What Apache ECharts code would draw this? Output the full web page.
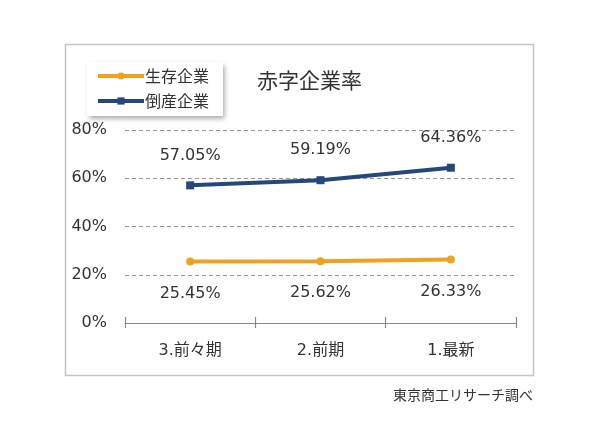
<!DOCTYPE html>
<html>
<head>
<meta charset="utf-8">
<script src="https://cdn.jsdelivr.net/npm/echarts@6/dist/echarts.min.js"></script>
<style>
  html, body { margin: 0; padding: 0; background: #fff; }
  #chart { width: 600px; height: 432px; }
</style>
</head>
<body>
<div id="chart"></div>
<script>
// 데이터
const categories = ['3.前々期', '2.前期', '1.最新'];
const survivingValues = [25.45, 25.62, 26.33];
const bankruptValues = [57.05, 59.19, 64.36];
const yTicks = [0, 20, 40, 60, 80];

const font = '"DejaVu Sans", "Noto Sans CJK JP", sans-serif';
const cjkFont = '"Noto Sans CJK JP", sans-serif';
const orange = '#F0A21E';
const navy = '#24487A';

const chart = echarts.init(document.getElementById('chart'));

chart.setOption({
    animation: false,
    backgroundColor: '#fff',
    textStyle: { fontFamily: font },
    graphic: [
        {
            type: 'rect',
            shape: { x: 65.5, y: 44.5, width: 468, height: 331 },
            style: { fill: 'none', stroke: '#c4c4c4', lineWidth: 1.5 },
            z: -1
        },
        {
            type: 'text',
            left: 257, top: 70,
            style: { text: '赤字企業率', font: '21px ' + cjkFont, fill: '#333' }
        },
        {
            type: 'text',
            right: 67, top: 388,
            style: { text: '東京商工リサーチ調べ', font: '14px ' + cjkFont, fill: '#333' }
        }
    ],
    legend: {
        orient: 'vertical',
        left: 87, top: 62,
        itemWidth: 46, itemHeight: 9,
        itemGap: 9,
        padding: [6, 14, 7, 9],
        backgroundColor: '#fff',
        shadowBlur: 5, shadowOffsetX: 2, shadowOffsetY: 3,
        shadowColor: 'rgba(0,0,0,0.35)',
        lineStyle: { width: 4 },
        textStyle: { fontSize: 16, color: '#333', fontFamily: cjkFont, padding: [0, 0, 0, -4] },
        data: ['生存企業', '倒産企業']
    },
    grid: { left: 125, right: 84, top: 130, bottom: 109 },
    xAxis: [
        {
            type: 'category',
            data: categories,
            boundaryGap: true,
            axisLine: { show: true, lineStyle: { color: '#888', width: 1.2 } },
            axisTick: { show: true, length: 5, lineStyle: { color: '#888', width: 1.2 } },
            axisLabel: { color: '#333', fontSize: 16, margin: 20, fontFamily: font }
        },
        {
            type: 'category',
            data: categories,
            position: 'bottom',
            boundaryGap: true,
            axisLine: { show: false },
            axisTick: { show: true, inside: true, length: 6, lineStyle: { color: '#888', width: 1.2 } },
            axisLabel: { show: false }
        }
    ],
    yAxis: {
        type: 'value',
        min: yTicks[0],
        max: yTicks[yTicks.length - 1],
        interval: 20,
        axisLine: { show: false },
        axisTick: { show: false },
        axisLabel: { formatter: '{value}%', color: '#333', fontSize: 16, margin: 18, fontFamily: font },
        splitLine: {
            lineStyle: { color: '#999', type: [4, 3], width: 1 }
        }
    },
    series: [
        {
            name: '生存企業',
            type: 'line',
            data: survivingValues,
            color: orange,
            symbol: 'circle',
            symbolSize: 8,
            lineStyle: { width: 4, color: orange },
            itemStyle: { color: orange },
            label: {
                show: true, position: 'bottom', distance: 20,
                formatter: p => p.value.toFixed(2) + '%',
                color: '#333', fontSize: 16, fontFamily: font
            }
        },
        {
            name: '倒産企業',
            type: 'line',
            data: bankruptValues,
            color: navy,
            symbol: 'rect',
            symbolSize: 8,
            lineStyle: { width: 4, color: navy },
            itemStyle: { color: navy },
            label: {
                show: true, position: 'top', distance: 18,
                formatter: p => p.value.toFixed(2) + '%',
                color: '#333', fontSize: 16, fontFamily: font
            }
        }
    ]
});
</script>
</body>
</html>
